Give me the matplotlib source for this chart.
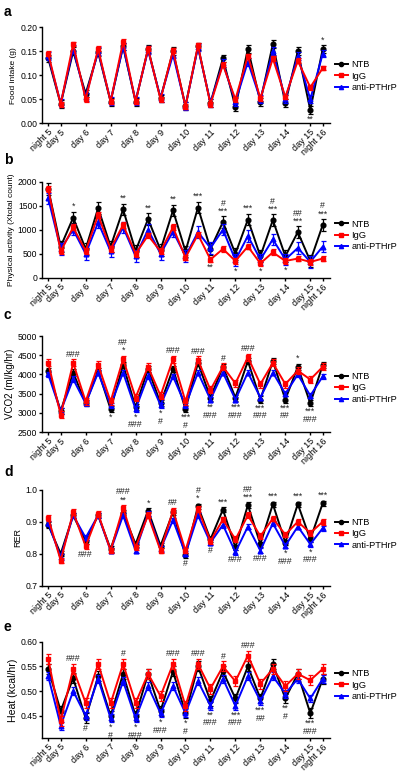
import matplotlib
matplotlib.use("Agg")
import matplotlib.pyplot as plt
from matplotlib.lines import Line2D

plt.rcParams['font.family'] = ['Liberation Sans', 'DejaVu Sans']
plt.rcParams['font.size'] = 6

# x positions: night 5, day 5, night 6, day 6, ... day 15, night 16
tick_pos = [0, 1, 3, 5, 7, 9, 11, 13, 15, 17, 19, 21, 22]
tick_labels = ['night 5', 'day 5', 'day 6', 'day 7', 'day 8', 'day 9', 'day 10',
               'day 11', 'day 12', 'day 13', 'day 14', 'day 15', 'night 16']
x = list(range(23))

# a - food intake (g)
food_ntb = [0.135, 0.040, 0.150, 0.062, 0.148, 0.045, 0.160, 0.045, 0.155, 0.052, 0.150, 0.036,
            0.160, 0.042, 0.135, 0.034, 0.155, 0.045, 0.165, 0.042, 0.150, 0.028, 0.155]
food_igg = [0.145, 0.040, 0.165, 0.050, 0.155, 0.045, 0.170, 0.045, 0.155, 0.050, 0.152, 0.035,
            0.162, 0.040, 0.122, 0.050, 0.140, 0.052, 0.135, 0.055, 0.130, 0.075, 0.115]
food_anti = [0.140, 0.042, 0.155, 0.055, 0.150, 0.047, 0.160, 0.047, 0.152, 0.053, 0.143, 0.036,
             0.158, 0.043, 0.125, 0.045, 0.128, 0.050, 0.150, 0.050, 0.140, 0.050, 0.145]
food_err = [0.008, 0.005, 0.008]
food_ann = [(22, '*', 'up'), (21, '**', 'down')]

# b - physical activity
act_ntb = [1850, 650, 1250, 600, 1450, 650, 1420, 560, 1220, 580, 1400, 550,
           1460, 600, 1160, 500, 1210, 450, 1200, 450, 950, 350, 1100]
act_igg = [1850, 550, 1050, 560, 1300, 600, 1100, 500, 880, 550, 1050, 420,
           900, 380, 600, 350, 650, 300, 530, 350, 400, 330, 400]
act_anti = [1650, 600, 1000, 500, 1150, 550, 1050, 450, 1000, 500, 960, 450,
            950, 620, 1000, 370, 870, 380, 800, 380, 620, 330, 650]
act_err = [120, 60, 120]
act_ann = [(2, '*', 'up'), (6, '**', 'up'), (8, '**', 'up'), (10, '**', 'up'),
           (12, '***', 'up'), (14, '#\n***', 'up'), (16, '***', 'up'), (18, '#\n***', 'up'),
           (20, '##\n***', 'up'), (22, '#\n***', 'up'),
           (13, '**', 'down'), (15, '*', 'down'), (17, '*', 'down'), (19, '*', 'down')]

# c - VCO2
vco_ntb = [4100, 3050, 4050, 3250, 4100, 3100, 4250, 3150, 4150, 3250, 4150, 3100,
           4300, 3400, 4200, 3400, 4350, 3350, 4350, 3350, 4200, 3250, 4250]
vco_igg = [4300, 2950, 4300, 3300, 4250, 3300, 4400, 3400, 4200, 3450, 4400, 3300,
           4380, 3600, 4200, 3770, 4450, 3750, 4300, 3750, 4100, 3870, 4200]
vco_anti = [4000, 3050, 3880, 3250, 4050, 3200, 4050, 3100, 3960, 3200, 3950, 3200,
            4050, 3350, 4050, 3350, 4050, 3400, 4050, 3500, 4000, 3450, 3950]
vco_err = [80, 90, 70]
vco_ann = [(2, '###', 'up'), (6, '##\n*', 'up'), (10, '###', 'up'), (12, '###', 'up'),
           (14, '#', 'up'), (16, '###', 'up'), (20, '*', 'up'),
           (5, '*', 'down'), (7, '*\n###', 'down'), (9, '*\n#', 'down'), (11, '***\n#', 'down'),
           (13, '**\n###', 'down'), (15, '***\n###', 'down'), (17, '***\n###', 'down'),
           (19, '***\n##', 'down'), (21, '***\n###', 'down')]

# d - RER
rer_ntb = [0.890, 0.800, 0.920, 0.840, 0.920, 0.815, 0.928, 0.830, 0.935, 0.825, 0.930, 0.795,
           0.948, 0.845, 0.938, 0.820, 0.952, 0.830, 0.955, 0.835, 0.955, 0.845, 0.958]
rer_igg = [0.912, 0.779, 0.930, 0.823, 0.925, 0.810, 0.943, 0.820, 0.920, 0.810, 0.935, 0.810,
           0.940, 0.840, 0.907, 0.845, 0.920, 0.855, 0.910, 0.860, 0.900, 0.865, 0.900]
rer_anti = [0.895, 0.790, 0.920, 0.850, 0.920, 0.810, 0.920, 0.810, 0.925, 0.815, 0.905, 0.800,
            0.920, 0.835, 0.890, 0.805, 0.885, 0.810, 0.895, 0.825, 0.885, 0.830, 0.880]
rer_err = [0.008, 0.009, 0.008]
rer_ann = [(6, '###\n**', 'up'), (8, '*', 'up'), (10, '##', 'up'), (12, '#\n*', 'up'),
           (14, '***', 'up'), (16, '##\n***', 'up'), (18, '***', 'up'), (20, '***', 'up'),
           (22, '***', 'up'),
           (3, '###', 'down'), (11, '#', 'down'), (13, '#', 'down'), (15, '###', 'down'),
           (17, '###', 'down'), (19, '*\n###', 'down'), (21, '*\n###', 'down')]

# e - heat
heat_ntb = [0.545, 0.460, 0.526, 0.445, 0.530, 0.450, 0.535, 0.450, 0.535, 0.460, 0.540, 0.455,
            0.550, 0.480, 0.540, 0.485, 0.550, 0.485, 0.555, 0.485, 0.535, 0.455, 0.525]
heat_igg = [0.565, 0.440, 0.545, 0.476, 0.555, 0.475, 0.555, 0.476, 0.535, 0.490, 0.555, 0.470,
            0.555, 0.505, 0.550, 0.520, 0.572, 0.515, 0.545, 0.510, 0.535, 0.522, 0.545]
heat_anti = [0.530, 0.430, 0.500, 0.450, 0.525, 0.445, 0.520, 0.445, 0.510, 0.455, 0.510, 0.455,
             0.520, 0.470, 0.525, 0.470, 0.530, 0.480, 0.530, 0.495, 0.525, 0.485, 0.525]
heat_err = [0.010, 0.010, 0.008]
heat_ann = [(2, '###', 'up'), (6, '#', 'up'), (10, '###', 'up'), (12, '###', 'up'),
            (14, '#', 'up'), (16, '###', 'up'),
            (3, '#', 'down'), (5, '*\n#', 'down'), (7, '*\n###', 'down'), (9, '*\n###', 'down'),
            (11, '*\n#', 'down'), (13, '**\n###', 'down'), (15, '***\n###', 'down'),
            (17, '***\n##', 'down'), (19, '**\n#', 'down'), (21, '***\n###', 'down')]

panels = [
    ('a', 'Food intake (g)', (food_ntb, food_igg, food_anti), food_err, food_ann,
     (0, 0.20), [0, 0.05, 0.10, 0.15, 0.20], '{:.2f}'),
    ('b', 'Physical activity (Xtotal count)', (act_ntb, act_igg, act_anti), act_err, act_ann,
     (0, 2000), [0, 500, 1000, 1500, 2000], '{:.0f}'),
    ('c', 'VCO2 (ml/kg/hr)', (vco_ntb, vco_igg, vco_anti), vco_err, vco_ann,
     (2500, 5000), [2500, 3000, 3500, 4000, 4500, 5000], '{:.0f}'),
    ('d', 'RER', (rer_ntb, rer_igg, rer_anti), rer_err, rer_ann,
     (0.7, 1.0), [0.7, 0.8, 0.9, 1.0], '{:.1f}'),
    ('e', 'Heat (kcal/hr)', (heat_ntb, heat_igg, heat_anti), heat_err, heat_ann,
     (0.405, 0.60), [0.45, 0.50, 0.55, 0.60], '{:.2f}'),
]

names = ['NTB', 'IgG', 'anti-PTHrP']
colors = ['black', '#ff0000', '#0000ff']
markers = ['o', 's', '^']
zorders = [3, 5, 4]

fig = plt.figure(figsize=(4.0, 7.76), dpi=100)
bottoms = [0.841, 0.642, 0.443, 0.245, 0.049]
legend_y = [0.49, 0.44, 0.46, 0.54, 0.55]
letter_y = [0.985, 0.794, 0.594, 0.392, 0.192]
ylabel_size = [6.0, 6.0, 7.0, 6.5, 7.6]

for k, (letter, ylabel, series, errs, ann, ylim, yticks, fmt) in enumerate(panels):
    ax = fig.add_axes([0.104, bottoms[k], 0.721, 0.124])
    for s, c, m, z, e in zip(series, colors, markers, zorders, errs):
        ax.errorbar(x, s, yerr=e, color=c, marker=m, markersize=3.4, lw=1.4,
                    elinewidth=0.9, capsize=1.8, capthick=0.9, zorder=z)
    for i, txt, where in ann:
        if where == 'up':
            top = max(s[i] + e for s, e in zip(series, errs))
            ax.annotate(txt, (i, top), xytext=(0, 0.5), textcoords='offset points',
                        ha='center', va='bottom', fontsize=6.3, linespacing=0.85,
                        color='#222222', annotation_clip=False)
        else:
            bot = min(s[i] - e for s, e in zip(series, errs))
            ax.annotate(txt, (i, bot), xytext=(0, -0.5), textcoords='offset points',
                        ha='center', va='top', fontsize=6.3, linespacing=0.85,
                        color='#222222', annotation_clip=False)
    ax.set_xlim(-0.53, 22.58)
    ax.set_ylim(*ylim)
    ax.set_yticks(yticks)
    ax.set_yticklabels([fmt.format(v) for v in yticks], fontsize=6.2)
    ax.set_xticks(tick_pos)
    ax.set_xticklabels(tick_labels, rotation=45, ha='right', rotation_mode='anchor',
                       fontsize=6.5)
    ax.set_ylabel(ylabel, fontsize=ylabel_size[k], labelpad=2)
    for sp in ['top', 'right']:
        ax.spines[sp].set_visible(False)
    ax.spines['left'].set_linewidth(1.0)
    ax.spines['bottom'].set_linewidth(1.0)
    ax.tick_params(direction='out', length=2.2, width=1.0, pad=1)
    handles = [Line2D([], [], color=c, marker=m, markersize=3.0, lw=1.4)
               for c, m in zip(colors, markers)]
    ax.legend(handles, names, loc='center left', bbox_to_anchor=(1.0, legend_y[k]),
              frameon=False, fontsize=6.7, handlelength=1.4, handletextpad=0.4,
              borderaxespad=0.3, borderpad=0.2, labelspacing=0.25)
    fig.text(0.01, letter_y[k], letter, fontsize=10, fontweight='bold',
             va='center', ha='left')

fig.savefig('out.png', dpi=100)
